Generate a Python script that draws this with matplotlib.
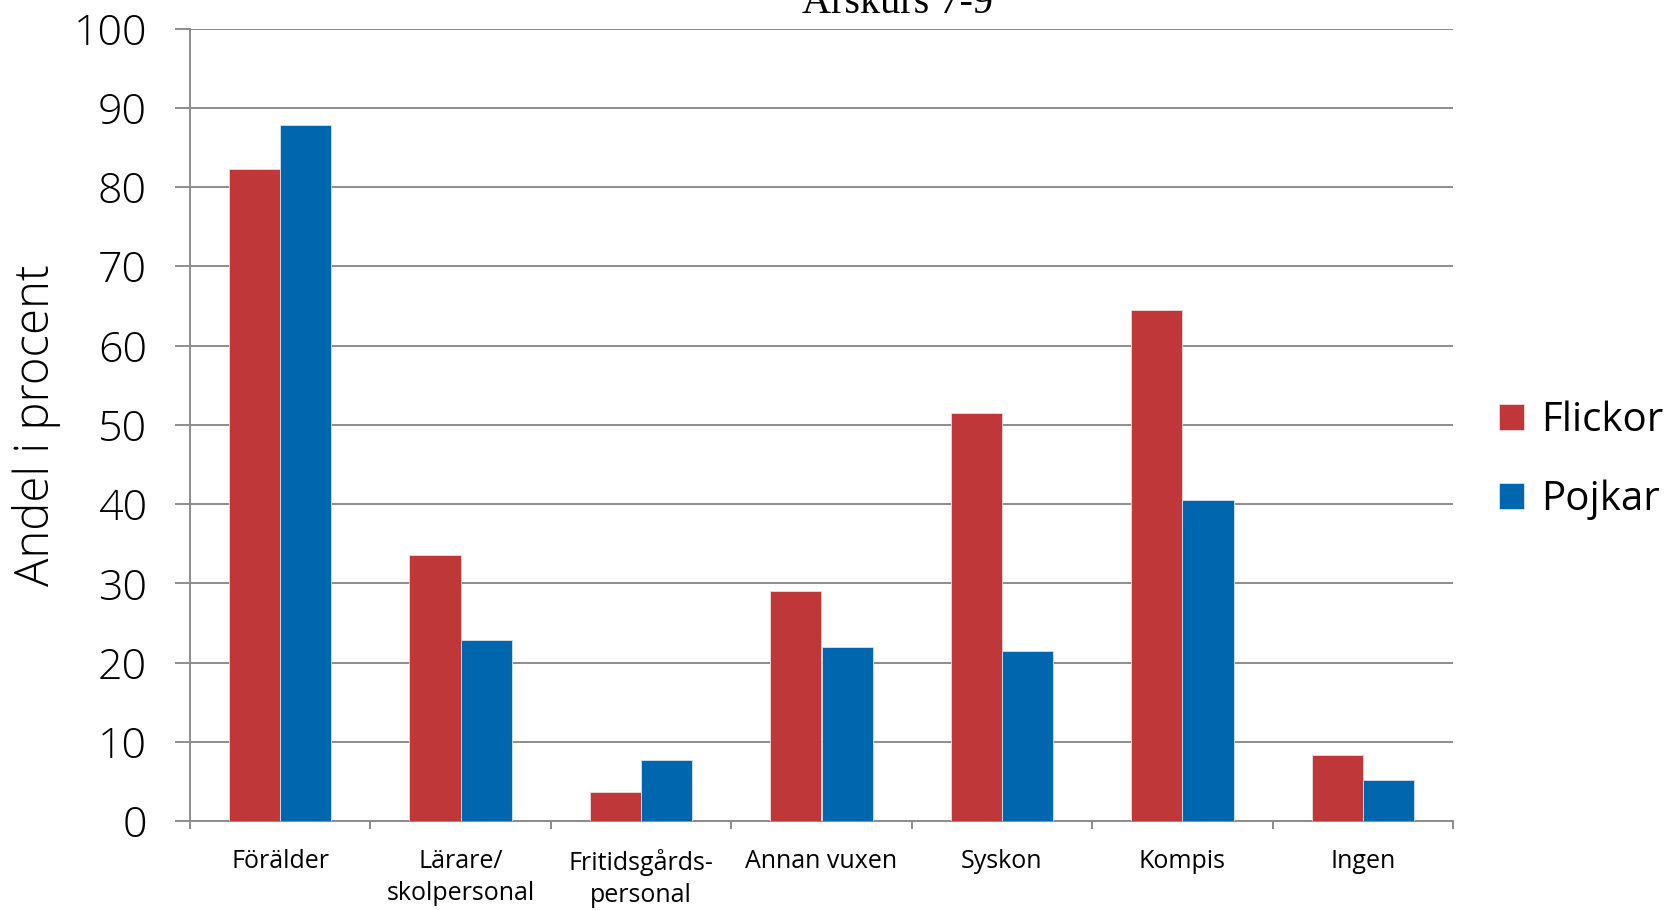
import matplotlib
matplotlib.use("Agg")
import matplotlib.pyplot as plt
import numpy as np

categories = ["Förälder", "Lärare/\nskolpersonal", "Fritidsgårds-\npersonal",
              "Annan vuxen", "Syskon", "Kompis", "Ingen"]
flickor = [82.3, 33.6, 3.6, 29.0, 51.5, 64.5, 8.3]
pojkar = [87.8, 22.8, 7.7, 22.0, 21.4, 40.5, 5.2]
yticks = [0, 10, 20, 30, 40, 50, 60, 70, 80, 90, 100]

RED = "#C0373A"
BLUE = "#0066AD"
GRID = "#8C8C8C"
FONT = ["Open Sans", "DejaVu Sans"]

plt.rcParams["font.family"] = FONT

fig = plt.figure(figsize=(16.71, 9.10), dpi=100)
ax = fig.add_axes([190/1671, 1-821/910, (1453-190)/1671, (821-28.5)/910])

x = np.arange(len(categories))
w = 0.284
ax.bar(x - w/2, flickor, width=w, color=RED, edgecolor="#F2DADA", linewidth=0.6,
       label="Flickor", zorder=3)
ax.bar(x + w/2, pojkar, width=w, color=BLUE, edgecolor="#D5E3F0", linewidth=0.6,
       label="Pojkar", zorder=3)

ax.set_xlim(-0.5, len(categories) - 0.5)
ax.set_ylim(0, 100)
ax.set_yticks(yticks)
ax.set_yticklabels([str(v) for v in yticks], fontsize=31, fontweight="light")
ax.yaxis.grid(True, color=GRID, linewidth=1.4, zorder=0)
ax.set_axisbelow(True)

ax.set_xticks(x)
ax.set_xticklabels(categories, fontsize=18, linespacing=1.4)
ax.set_xticks(np.arange(len(categories) + 1) - 0.5, minor=True)
ax.tick_params(axis="x", which="major", length=0, pad=20)
ax.tick_params(axis="x", which="minor", length=6, width=1.4, color=GRID, direction="out")
ax.tick_params(axis="y", length=11, width=1.4, color=GRID, direction="out", pad=20)

for s in ["top", "right"]:
    ax.spines[s].set_visible(False)
for s in ["left", "bottom"]:
    ax.spines[s].set_color(GRID)
    ax.spines[s].set_linewidth(1.4)

ax.set_ylabel("Andel i procent", fontsize=34, fontweight="light", labelpad=9)

leg = ax.legend(loc="center left", bbox_to_anchor=(1.0, 0.455), frameon=False,
                fontsize=29, handlelength=0.62, handleheight=0.62,
                handletextpad=0.42, labelspacing=0.95, borderaxespad=0.75)

fig.text(897/1671, 1 - 13/910, "Årskurs 7-9", fontsize=29,
         family=["Liberation Serif", "DejaVu Serif"], ha="center", va="baseline")

fig.savefig("out.png", dpi=100)
